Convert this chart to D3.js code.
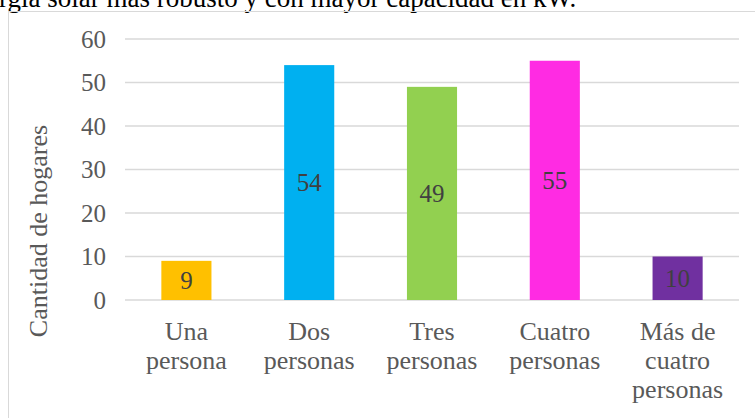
<!DOCTYPE html>
<html><head><meta charset="utf-8">
<script src="https://cdn.jsdelivr.net/npm/d3@7/dist/d3.min.js"></script>
<style>body{margin:0;background:#fff;}svg{display:block;}</style>
</head><body>
<script>
const categories = [["Una","persona"],["Dos","personas"],["Tres","personas"],["Cuatro","personas"],["Más de","cuatro","personas"]];
const values = [9, 54, 49, 55, 10];
const colors = ["#FFC000","#00B0F0","#92D050","#FF2BE3","#7030A0"];
const yTicks = [0,10,20,30,40,50,60];
const yTitle = "Cantidad de hogares";
const topText = "rgía solar más robusto y con mayor capacidad en kW.";

const W = 755, H = 418;
const svg = d3.select("body").append("svg").attr("width", W).attr("height", H);
const font = "'Liberation Serif','Times New Roman',serif";

svg.append("text").attr("x", -1).attr("y", 7).attr("font-family", font).attr("font-size", 27)
  .attr("fill", "#000").text(topText);

svg.append("rect").attr("x", 8.5).attr("y", 11.5).attr("width", 760).attr("height", 420)
  .attr("fill", "none").attr("stroke", "#d9d9d9").attr("stroke-width", 1);

const x = d3.scaleBand().domain(d3.range(values.length)).range([125, 739]).paddingInner(0.592).paddingOuter(0.296);
const y = d3.scaleLinear().domain([0, 60]).range([300, 39]);

const g = svg.append("g");
g.selectAll("line.grid").data(yTicks).join("line").attr("class","grid")
  .attr("x1", 125).attr("x2", 739).attr("y1", d => y(d)).attr("y2", d => y(d))
  .attr("stroke", "#d9d9d9").attr("stroke-width", 1.5);

g.selectAll("text.tick").data(yTicks).join("text").attr("class","tick")
  .attr("x", 106).attr("y", d => y(d)).attr("dy", "0.35em").attr("text-anchor", "end")
  .attr("font-family", font).attr("font-size", 25).attr("fill", "#595959").text(d => d);

g.selectAll("rect.bar").data(values).join("rect").attr("class","bar")
  .attr("x", (d,i) => x(i)).attr("width", x.bandwidth())
  .attr("y", d => y(d)).attr("height", d => y(0) - y(d)).attr("fill", (d,i) => colors[i]);

g.selectAll("text.lbl").data(values).join("text").attr("class","lbl")
  .attr("x", (d,i) => x(i) + x.bandwidth()/2).attr("y", d => (y(d) + y(0))/2).attr("dy", "0.35em")
  .attr("text-anchor", "middle").attr("font-family", font).attr("font-size", 25).attr("fill", "#404040")
  .text(d => d);

const cat = g.selectAll("text.cat").data(categories).join("text").attr("class","cat")
  .attr("text-anchor", "middle").attr("font-family", font).attr("font-size", 26).attr("fill", "#595959");
cat.each(function(lines, i){
  const t = d3.select(this);
  lines.forEach((l, j) => {
    t.append("tspan").attr("x", x(i) + x.bandwidth()/2).attr("y", 340 + j*29).text(l);
  });
});

svg.append("text").attr("transform", "translate(47,231) rotate(-90)").attr("text-anchor", "middle")
  .attr("font-family", font).attr("font-size", 26).attr("fill", "#595959").text(yTitle);
</script>
</body></html>
